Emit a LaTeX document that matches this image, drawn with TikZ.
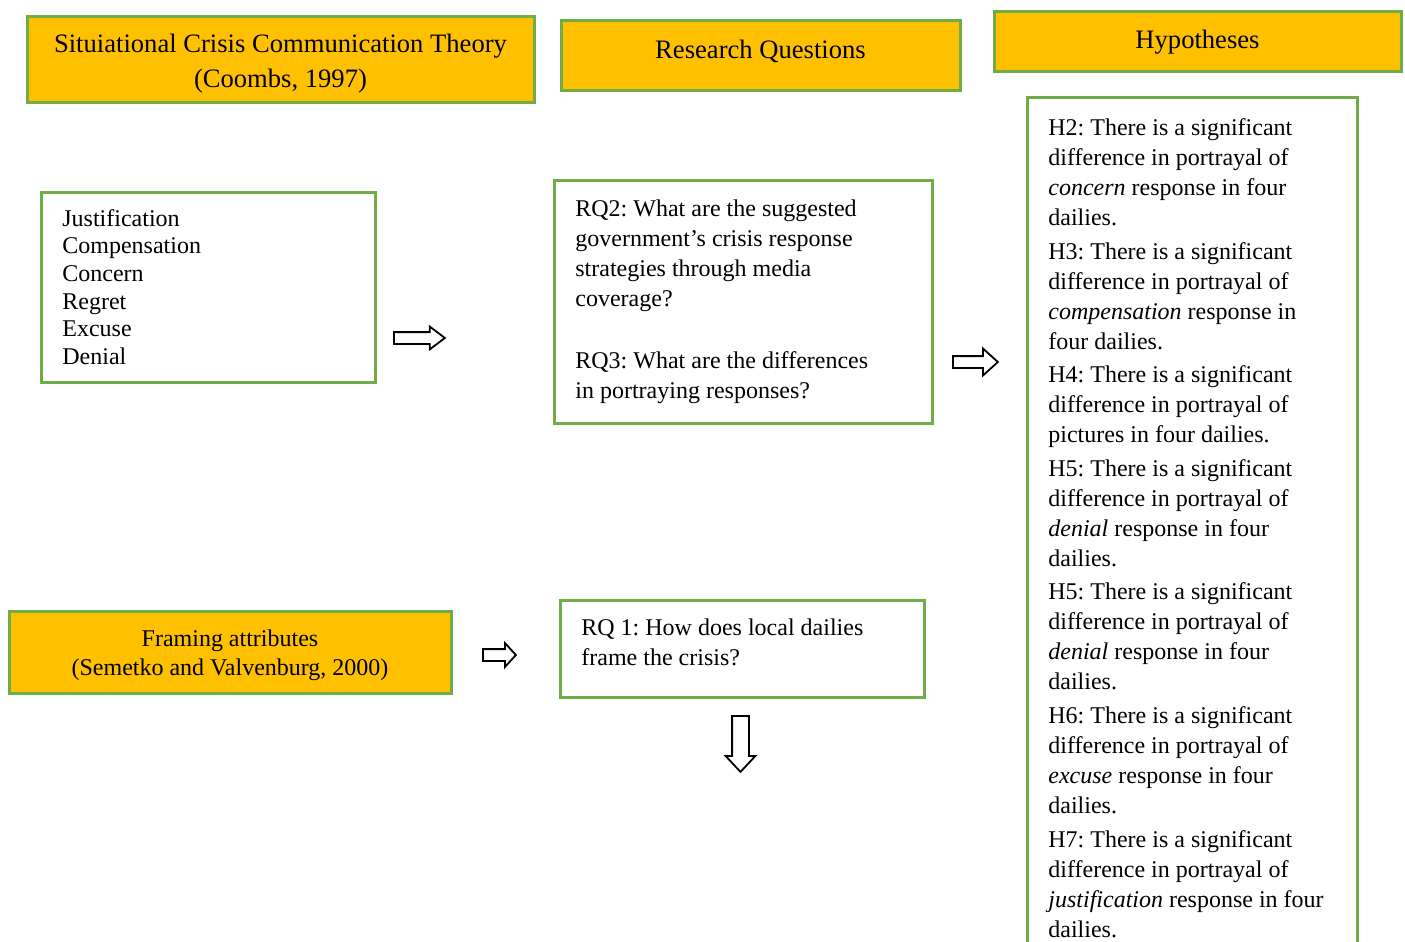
\documentclass[tikz,border=0pt]{standalone}
\usepackage{fontspec}
\setmainfont{Liberation Serif}
\usetikzlibrary{shapes.arrows}
\definecolor{gold}{HTML}{FFC000}
\definecolor{leaf}{HTML}{70AD47}
\frenchspacing
\tikzset{
  headbox/.style={draw=leaf, line width=1.5pt, fill=gold, inner sep=0pt},
  headtext/.style={align=center, inner sep=0pt, font=\fontsize{13.3}{16}\selectfont},
  plainbox/.style={draw=leaf, line width=1.5pt, fill=white, inner sep=0pt},
  boxtext/.style={anchor=north west, align=left, inner sep=0pt, font=\fontsize{12}{15}\selectfont},
  hollow/.style={single arrow, draw=black, line width=0.9pt, fill=white, inner xsep=0pt, single arrow head indent=0pt, anchor=tail},
}
\begin{document}
\begin{tikzpicture}[x=0.5pt,y=-0.5pt]
\useasboundingbox (0,0) rectangle (1405,942);
\clip (0,0) rectangle (1405,942);
% headers
\node[headbox, minimum width=253.5pt, minimum height=43pt] (scct) at (280.5,59) {};
\node[headtext, font=\fontsize{13.3}{17.5}\selectfont] (sccttext) at (280.5,64) {Situiational Crisis Communication Theory\\(Coombs, 1997)};
\node[headbox, minimum width=199.5pt, minimum height=35pt] (rqhead) at (760.5,55) {};
\node[headtext] (rqheadtext) at (760.5,51) {Research Questions};
\node[headbox, minimum width=203.5pt, minimum height=30pt] (hyphead) at (1197.5,41) {};
\node[headtext] (hypheadtext) at (1197.5,42) {Hypotheses};
\node[headbox, minimum width=221pt, minimum height=41pt] (frame) at (230,652) {};
\node[headtext, font=\fontsize{12}{14.5}\selectfont] (frametext) at (230,655) {Framing attributes\\(Semetko and Valvenburg, 2000)};
% boxes
\node[plainbox, minimum width=167pt, minimum height=95pt] (strat) at (208,287) {};
\node[boxtext, font=\fontsize{12}{13.8}\selectfont] (strattext) at (62,206.5) {\strut Justification\\Compensation\\Concern\\Regret\\Excuse\\Denial};
\node[plainbox, minimum width=189pt, minimum height=121.5pt] (rqtwo) at (743,301.5) {};
\node[boxtext] (rqtwotext) at (575,195) {\strut RQ2: What are the suggested\\government’s crisis response\\strategies through media\\coverage?\\[16pt]RQ3: What are the differences\\in portraying responses?};
\node[plainbox, minimum width=182pt, minimum height=48.5pt] (rqone) at (742,648.5) {};
\node[boxtext] (rqonetext) at (581,614) {\strut RQ 1: How does local dailies\\frame the crisis?};
\node[plainbox, minimum width=165pt, minimum height=451.5pt] (hyps) at (1192,548.5) {};
\node[boxtext] (hypstext) at (1048,114) {\strut H2: There is a significant\\difference in portrayal of\\\textit{concern} response in four\\dailies.\\[1.8pt]
H3: There is a significant\\difference in portrayal of\\\textit{compensation} response in\\four dailies.\\[1.8pt]
H4: There is a significant\\difference in portrayal of\\pictures in four dailies.\\[1.8pt]
H5: There is a significant\\difference in portrayal of\\\textit{denial} response in four\\dailies.\\[1.8pt]
H5: There is a significant\\difference in portrayal of\\\textit{denial} response in four\\dailies.\\[1.8pt]
H6: There is a significant\\difference in portrayal of\\\textit{excuse} response in four\\dailies.\\[1.8pt]
H7: There is a significant\\difference in portrayal of\\\textit{justification} response in four\\dailies.};
% block arrows
\node[hollow, minimum height=25.5pt, inner ysep=2.5pt, single arrow head extend=2.75pt, single arrow tip angle=74] (toRQtwo) at (393,338) {};
\node[hollow, minimum height=22.5pt, inner ysep=2.5pt, single arrow head extend=3.75pt, single arrow tip angle=84] (toHyps) at (952,362) {};
\node[hollow, minimum height=16.5pt, inner ysep=2.5pt, single arrow head extend=3pt, single arrow tip angle=95] (toRQone) at (482,655) {};
\node[hollow, minimum height=28pt, inner ysep=3.75pt, single arrow head extend=3.25pt, single arrow tip angle=86, rotate=-90] (down) at (740.5,715) {};
\end{tikzpicture}
\end{document}
